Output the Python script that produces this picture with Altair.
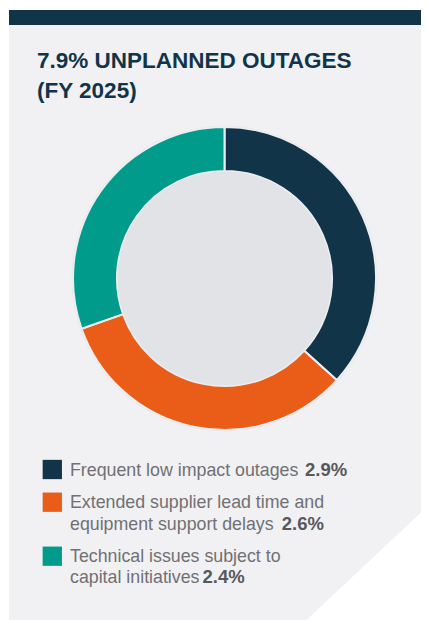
import altair as alt
import pandas as pd
import math

# ---- data ----
title_lines = ["7.9% UNPLANNED OUTAGES", "(FY 2025)"]
categories = [
    "Frequent low impact outages",
    "Extended supplier lead time and equipment support delays",
    "Technical issues subject to capital initiatives",
]
values = [2.9, 2.6, 2.4]
legend_lines = [
    ["Frequent low impact outages"],
    ["Extended supplier lead time and", "equipment support delays"],
    ["Technical issues subject to", "capital initiatives"],
]
value_labels = [f"{v}%" for v in values]

# ---- styles / layout ----
colors = ["#123449", "#e95d18", "#009b8a"]
NAVY = "#123449"
PANEL = "#f1f1f3"
INNER = "#e2e3e6"
FONT = "Liberation Sans"
W, H = 413, 612
CX, CY = 216.5, 270.5
R_IN, R_OUT = 107.5, 151.5

sq_x = 44.3
sq_y = [461.5, 494.2, 548.2]
text_x = 62
first_baseline = [467.7, 500.3, 553.7]
line_h = 21.7
bold_x = [297, 273.7, 194.5]

one = pd.DataFrame({"k": [0]})
df = pd.DataFrame({"category": categories, "value": values, "order": list(range(len(values)))})

layers = []

# panel background
layers.append(alt.Chart(one).mark_rect(color=PANEL).encode(
    x=alt.value(1), x2=alt.value(W), y=alt.value(2), y2=alt.value(H)))
# top band
layers.append(alt.Chart(one).mark_rect(color=NAVY).encode(
    x=alt.value(1), x2=alt.value(W), y=alt.value(2), y2=alt.value(17)))

# cut corner (white thick rule along the diagonal)
p1 = (421.0, 497.0)
p2 = (290.0, 620.0)
dx, dy = p2[0] - p1[0], p2[1] - p1[1]
ln = math.hypot(dx, dy)
ux, uy = dx / ln, dy / ln
nx, ny = -uy, ux
if nx < 0:
    nx, ny = -nx, -ny
sw = 200
ax_, ay_ = p1[0] - 200 * ux + nx * sw / 2, p1[1] - 200 * uy + ny * sw / 2
bx_, by_ = p2[0] + 200 * ux + nx * sw / 2, p2[1] + 200 * uy + ny * sw / 2
layers.append(alt.Chart(one).mark_rule(color="white", strokeWidth=sw, strokeCap="butt").encode(
    x=alt.value(ax_), y=alt.value(ay_), x2=alt.value(bx_), y2=alt.value(by_)))

# title
layers.append(alt.Chart(one).mark_text(
    font=FONT, fontSize=22.5, fontWeight="bold", color=NAVY, align="left",
    baseline="alphabetic", lineHeight=29.5).encode(
    x=alt.value(29), y=alt.value(60), text=alt.value(title_lines)))

# donut border circle
layers.append(alt.Chart(one).mark_circle(color=INNER, opacity=1, size=(2 * (R_OUT + 1.3)) ** 2).encode(
    x=alt.value(CX), y=alt.value(CY)))

# donut
layers.append(alt.Chart(df).mark_arc(innerRadius=R_IN, outerRadius=R_OUT, stroke="#eceef1",
                                     strokeWidth=2).encode(
    theta=alt.Theta("value:Q", stack=True),
    color=alt.Color("category:N", scale=alt.Scale(domain=categories, range=colors), legend=None),
    order=alt.Order("order:Q"),
    x=alt.value(CX), y=alt.value(CY)))

# inner disc
layers.append(alt.Chart(one).mark_circle(color=INNER, opacity=1, size=(2 * (R_IN - 0.5)) ** 2).encode(
    x=alt.value(CX), y=alt.value(CY)))

# legend
for i, cat in enumerate(categories):
    layers.append(alt.Chart(one).mark_square(color=colors[i], opacity=1, size=19.3 ** 2).encode(
        x=alt.value(sq_x), y=alt.value(sq_y[i])))
    layers.append(alt.Chart(one).mark_text(
        font=FONT, fontSize=17.8, color="#707073", align="left", baseline="alphabetic",
        lineHeight=line_h).encode(
        x=alt.value(text_x), y=alt.value(first_baseline[i]), text=alt.value(legend_lines[i])))
    last_baseline = first_baseline[i] + line_h * (len(legend_lines[i]) - 1)
    layers.append(alt.Chart(one).mark_text(
        font=FONT, fontSize=18.5, fontWeight="bold", color="#58585b", align="left",
        baseline="alphabetic").encode(
        x=alt.value(bold_x[i]), y=alt.value(last_baseline), text=alt.value(value_labels[i])))

chart = alt.layer(*layers).properties(
    width=W, height=H, padding=0, autosize=alt.AutoSizeParams(type="none"),
    background="white"
).configure_view(stroke=None)

chart.save("out.html", embed_options={"renderer": "svg", "actions": False})
